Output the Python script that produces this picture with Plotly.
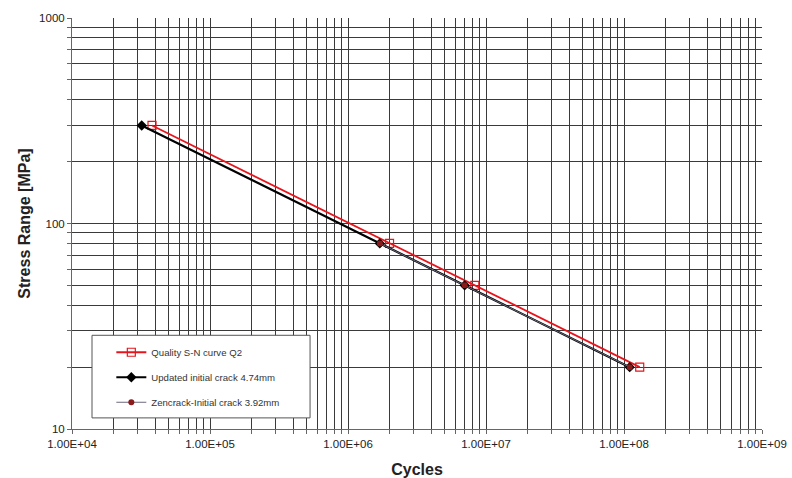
import plotly.graph_objects as go

# Data
q2_cycles = [3.8e4, 2.0e6, 8.3e6, 1.3e8]
q2_stress = [300, 80, 50, 20]

upd_cycles = [3.2e4, 1.7e6, 7.0e6, 1.1e8]
upd_stress = [300, 80, 50, 20]

zen_cycles = [1.7e6, 7.0e6, 1.1e8]
zen_stress = [80, 50, 20]

x_major = [1e4, 1e5, 1e6, 1e7, 1e8, 1e9]
x_major_labels = ["1.00E+04", "1.00E+05", "1.00E+06", "1.00E+07", "1.00E+08", "1.00E+09"]
y_major = [10, 100, 1000]
y_major_labels = ["10", "100", "1000"]

FONT = "Liberation Sans, Arial, sans-serif"

# gridline values (every integer multiple within each decade)
def log_grid(lo_exp, hi_exp):
    vals = []
    for e in range(lo_exp, hi_exp):
        for m in range(1, 10):
            vals.append(m * 10 ** e)
    vals.append(10 ** hi_exp)
    return vals

x_grid = log_grid(4, 9)
y_grid = log_grid(1, 3)
x_text = [x_major_labels[x_major.index(v)] if v in x_major else "" for v in x_grid]
y_text = [y_major_labels[y_major.index(v)] if v in y_major else "" for v in y_grid]

fig = go.Figure()
fig.add_trace(go.Scatter(
    x=q2_cycles, y=q2_stress, mode="lines+markers", name="Quality S-N curve Q2",
    line=dict(color="#e8141c", width=1.8),
    marker=dict(symbol="square-open", size=8, color="#e8141c", line=dict(width=1.2)),
    legendgroup="a"))
fig.add_trace(go.Scatter(
    x=upd_cycles, y=upd_stress, mode="lines+markers", name="Updated initial crack 4.74mm",
    line=dict(color="#000000", width=2.2),
    marker=dict(symbol="diamond", size=8, color="#000000"),
    legendgroup="b"))
fig.add_trace(go.Scatter(
    x=zen_cycles, y=zen_stress, mode="lines+markers", name="Zencrack-Initial crack 3.92mm",
    line=dict(color="#6a6a80", width=1),
    marker=dict(symbol="circle", size=6, color="#8b1a1a"),
    legendgroup="c"))

fig.update_layout(
    width=792, height=478,
    margin=dict(l=72, r=30, t=16, b=49),
    paper_bgcolor="white", plot_bgcolor="white",
    font=dict(family=FONT, size=11, color="#222"),
    showlegend=True,
    legend=dict(
        x=0.057, y=0.222, xanchor="left", yanchor="top",
        bgcolor="rgba(0,0,0,0)", borderwidth=0,
        font=dict(family=FONT, size=9.6, color="#333"),
        tracegroupgap=6, itemwidth=30,
    ),
    shapes=[dict(
        type="rect", xref="paper", yref="paper",
        x0=0.029, x1=0.345, y0=0.027, y1=0.228,
        fillcolor="white", line=dict(color="#555", width=1), layer="above")],
)

fig.update_xaxes(
    type="log", range=[4, 9], automargin=False,
    tickmode="array", tickvals=x_grid, ticktext=x_text,
    showgrid=True, gridcolor="#3a3a3a", gridwidth=1,
    showline=True, linecolor="#666", linewidth=1, mirror=False,
    ticks="outside", ticklen=4, tickcolor="#666",
    tickfont=dict(family=FONT, size=11.5, color="#222"),
    title=dict(text="<b>Cycles</b>", font=dict(family=FONT, size=16, color="#222")),
    zeroline=False,
)
fig.update_yaxes(
    type="log", range=[1, 3], automargin=True,
    tickmode="array", tickvals=y_grid, ticktext=y_text,
    showgrid=True, gridcolor="#3a3a3a", gridwidth=1,
    showline=True, linecolor="#666", linewidth=1,
    ticks="outside", ticklen=4, tickcolor="#666",
    tickfont=dict(family=FONT, size=11.5, color="#222"),
    title=dict(text="<b>Stress Range [MPa]</b>", font=dict(family=FONT, size=16, color="#222"), standoff=4),
    zeroline=False,
)

fig.write_html("out.html")
